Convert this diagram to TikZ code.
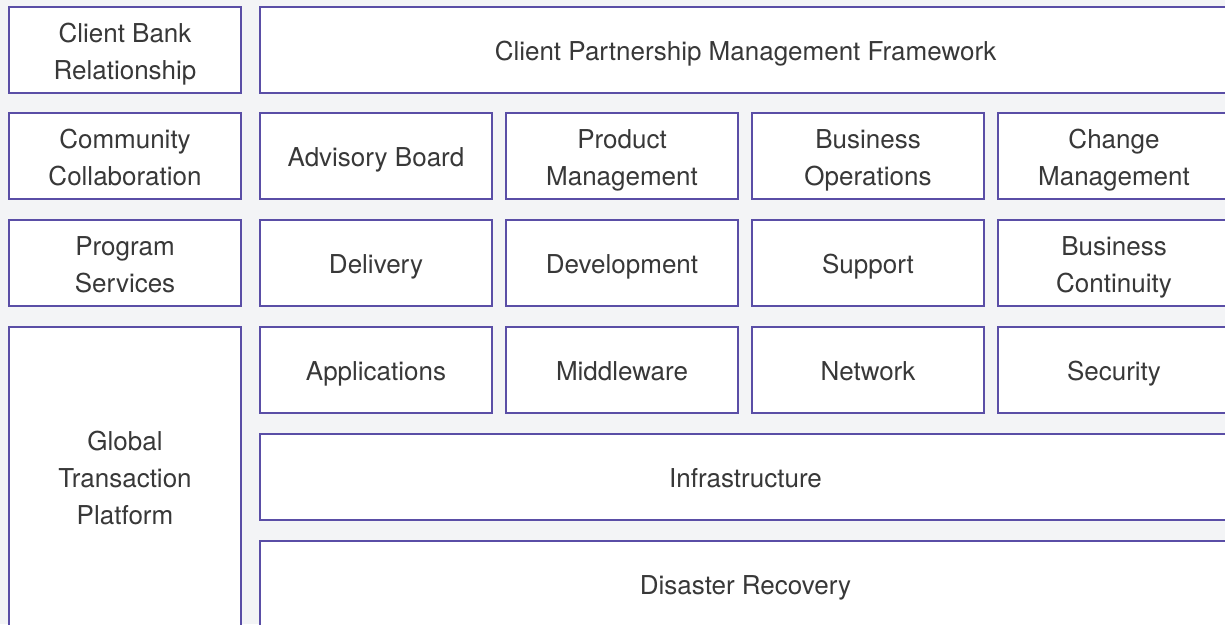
\documentclass[tikz,border=0pt]{standalone}
\usepackage{fontspec}
\setmainfont{TeX Gyre Heros}
\definecolor{bgcol}{HTML}{F3F4F6}
\definecolor{framecol}{HTML}{5A4EA6}
\definecolor{textcol}{HTML}{383838}
\newcommand\blktop{\rule{0pt}{28pt}}
\newcommand\blkbot{\rule[-7pt]{0pt}{7pt}}
\begin{document}
\begin{tikzpicture}[x=1pt,y=-1pt,
    block/.style={draw=framecol,line width=1.3pt,fill=white,anchor=north west,
        minimum width=232pt,minimum height=86pt,inner sep=0pt,outer sep=0pt,
        align=center,text=textcol,font=\fontsize{26}{37}\selectfont,
        text height=27pt,text depth=7pt},
    wide/.style={block,minimum width=971pt},
    stacked/.style={text height=,text depth=}]

    %background:
    \fill[bgcol] (0,0) rectangle (1225,624);
    \clip (0,0) rectangle (1225,624);

    %first row:
    \node[block,stacked] (bank) at (9,7) {\blktop Client Bank\\Relationship\blkbot};
    \node[wide] (partner) at (260,7) {Client Partnership Management Framework};

    %second row:
    \node[block,stacked] (community) at (9,113) {\blktop Community\\Collaboration\blkbot};
    \node[block] (advisory) at (260,113) {Advisory Board};
    \node[block,stacked] (product) at (506,113) {\blktop Product\\Management\blkbot};
    \node[block,stacked] (operations) at (752,113) {\blktop Business\\Operations\blkbot};
    \node[block,stacked] (change) at (998,113) {\blktop Change\\Management\blkbot};

    %third row:
    \node[block,stacked] (program) at (9,220) {\blktop Program\\Services\blkbot};
    \node[block] (delivery) at (260,220) {Delivery};
    \node[block] (development) at (506,220) {Development};
    \node[block] (support) at (752,220) {Support};
    \node[block,stacked] (continuity) at (998,220) {\blktop Business\\Continuity\blkbot};

    %platform:
    \node[block,stacked,minimum height=300pt] (platform) at (9,327) {\blktop Global\\Transaction\\Platform\blkbot};
    \node[block] (applications) at (260,327) {Applications};
    \node[block] (middleware) at (506,327) {Middleware};
    \node[block] (network) at (752,327) {Network};
    \node[block] (security) at (998,327) {Security};
    \node[wide] (infra) at (260,434) {Infrastructure};
    \node[wide] (recovery) at (260,541) {Disaster Recovery};

\end{tikzpicture}
\end{document}
